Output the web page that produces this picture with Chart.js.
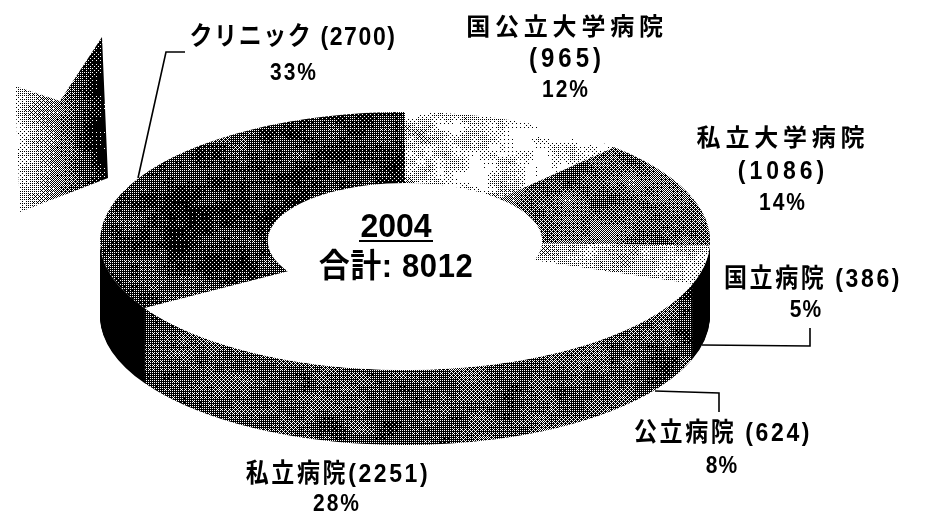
<!DOCTYPE html>
<html><head><meta charset="utf-8">
<style>html,body{margin:0;padding:0;background:#fff}canvas{display:block}</style>
<script src="https://cdn.jsdelivr.net/npm/chart.js@4"></script></head>
<body><canvas id="c" width="925" height="515"></canvas>
<script>
// Data (clockwise from 12 o'clock)
const categories = ["国公立大学病院","私立大学病院","国立病院","公立病院","私立病院","クリニック"];
const values = [965,1086,386,624,2251,2700];
const percents = [12,14,5,8,28,33];
const chartYear = "2004";
const chartTotal = "合計: 8012";

// Drawing layout
const W=925,H=515, CX=405, CY=241, RX=305, RY=129, DEPTH=75;
const FONT='"Liberation Sans","Noto Sans CJK JP",sans-serif';

// Halftone textures anchored to device pixels
const bayer=[[0,8,2,10],[12,4,14,6],[3,11,1,9],[15,7,13,5]];
function hash(i,j){const s=Math.sin(i*127.1+j*311.7)*43758.5453;return s-Math.floor(s);}
function vnoise(x,y){const i=Math.floor(x),j=Math.floor(y),u=x-i,v=y-j,a=u*u*(3-2*u),b=v*v*(3-2*v);
  return (hash(i,j)*(1-a)+hash(i+1,j)*a)*(1-b)+(hash(i,j+1)*(1-a)+hash(i+1,j+1)*a)*b;}
function fbm(x,y){return vnoise(x/30,y/22)*.55+vnoise(x/9,y/7)*.45-.5;}
const scratch=document.createElement('canvas').getContext('2d');
function halftone(fn){
  const t=document.createElement('canvas');t.width=W;t.height=H;
  const g=t.getContext('2d'),im=g.createImageData(W,H);
  for(let y=0;y<H;y++)for(let x=0;x<W;x++){
    const on=fn(x,y)>(bayer[y%4][x%4]+.5)/16?255:0,k=(y*W+x)*4;
    im.data[k]=im.data[k+1]=im.data[k+2]=on;im.data[k+3]=255;}
  g.putImageData(im,0,0);
  return scratch.createPattern(t,'repeat');
}
const P={
  clinicTop:halftone((x,y)=>.21+fbm(x,y)*.38),
  uniTop:halftone((x,y)=>{const fade=Math.min(1,Math.max(0,(x-405)/170));return .82+fade*.15+fbm(x+300,y)*.7;}),
  priUniTop:halftone((x,y)=>.40+fbm(x+90,y+40)*.4),
  natTop:halftone((x,y)=>.74+fbm(x+40,y+170)*.45),
  publicSide:halftone((x,y)=>.26+fbm(x,y+60)*.45),
  privateSide:halftone((x,y)=>.30+fbm(x+150,y+80)*.4),
  fragment:halftone((x,y)=>{const t=(x-15)/93;return (t<.45?.86-t*.8:.50-(t-.45)*.95)+fbm(x,y)*.3;})
};
const topFaces=[P.uniTop,P.priUniTop,P.natTop,'#fff','#fff',P.clinicTop];
const sideFaces=['#000','#000','#000',P.publicSide,P.privateSide,'#000'];

function anchor(ctx,list){const m=ctx.getTransform().inverse();list.forEach(p=>{if(typeof p!=='string')p.setTransform(m);});}

const squash3d={
  id:'squash3d',
  beforeDatasetsDraw(chart){
    const ctx=chart.ctx,arcs=chart.getDatasetMeta(0).data,a0=arcs[0],R=a0.outerRadius;
    const place=dy=>{ctx.setTransform(1,0,0,1,0,0);ctx.translate(CX,CY+dy);ctx.scale(RX/R,RY/R);ctx.translate(-a0.x,-a0.y);};
    ctx.save();
    for(let dy=DEPTH;dy>=1;dy--){
      place(dy);anchor(ctx,sideFaces);
      arcs.forEach((arc,i)=>{
        const keep=arc.options,o=Object.create(keep);o.backgroundColor=sideFaces[i];
        arc.options=o;arc.draw(ctx);arc.options=keep;
      });
    }
    place(0);
    // white base so no seam shows between the pale top faces, and the hole stays empty
    ctx.fillStyle='#fff';ctx.beginPath();ctx.arc(a0.x,a0.y,R,0,Math.PI*2);ctx.fill();
    anchor(ctx,topFaces);
  },
  afterDatasetsDraw(chart){chart.ctx.restore();},
  afterDraw(chart){
    const ctx=chart.ctx;
    ctx.save();ctx.setTransform(1,0,0,1,0,0);
    // stray shaded sliver at upper left of the source picture
    P.fragment.setTransform(new DOMMatrix());
    ctx.fillStyle=P.fragment;ctx.beginPath();
    ctx.moveTo(15,86);ctx.lineTo(60,101);ctx.lineTo(102,37);ctx.lineTo(108,178);ctx.lineTo(20,212);ctx.closePath();ctx.fill();
    // leader lines
    ctx.strokeStyle='#000';ctx.lineWidth=1.6;
    [[[185,52],[166,52],[138,178]],[[810,328],[810,346],[702,345]],[[655,391],[719,393],[719,412]]].forEach(l=>{
      ctx.beginPath();l.forEach((p,i)=>i?ctx.lineTo(p[0],p[1]):ctx.moveTo(p[0],p[1]));ctx.stroke();});
    // labels (vertically stretched a little, like the tall type of the source)
    ctx.fillStyle='#000';ctx.textAlign='center';ctx.textBaseline='middle';
    const txt=(s,x,y,size,sp,st=1.12)=>{
      ctx.save();ctx.translate(x,y);ctx.scale(1,st);
      ctx.font='bold '+size+'px '+FONT;ctx.letterSpacing=sp+'px';ctx.fillText(s,0,0);ctx.restore();};
    const pct=i=>percents[i]+'%';
    txt(categories[0],567,28,24,4.8,1); txt('('+values[0]+')',567,60,24,4); txt(pct(0),566,91,21,2);
    txt(categories[1],783,139,24,4.8,1); txt('('+values[1]+')',783,172,23,4); txt(pct(1),783,204,21,2);
    txt(categories[2]+' ('+values[2]+')',813,280,23,2.6); txt(pct(2),806,311,21,1);
    txt(categories[3]+' ('+values[3]+')',723,434,23,2.6); txt(pct(3),722,467,21,1);
    txt(categories[4]+'('+values[4]+')',338,475,23,2.6); txt(pct(4),337,505,21,2);
    txt(categories[5]+' ('+values[5]+')',293,38,23,1.6); txt(pct(5),294,74,21,2);
    txt(chartYear,396,228,32,0,1.05);
    ctx.lineWidth=2;ctx.beginPath();ctx.moveTo(359,241);ctx.lineTo(433,241);ctx.stroke();
    txt(chartTotal,396,268,31,0.6,1.05);
    ctx.restore();
  }
};

new Chart(document.getElementById('c'),{
  type:'doughnut',
  data:{labels:categories,datasets:[{data:values,backgroundColor:topFaces,borderWidth:0,clip:false}]},
  options:{responsive:false,animation:false,cutout:'45%',rotation:0,circumference:360,
    layout:{padding:0},
    plugins:{legend:{display:false},tooltip:{enabled:false}},events:[]},
  plugins:[squash3d]
});
</script></body></html>
